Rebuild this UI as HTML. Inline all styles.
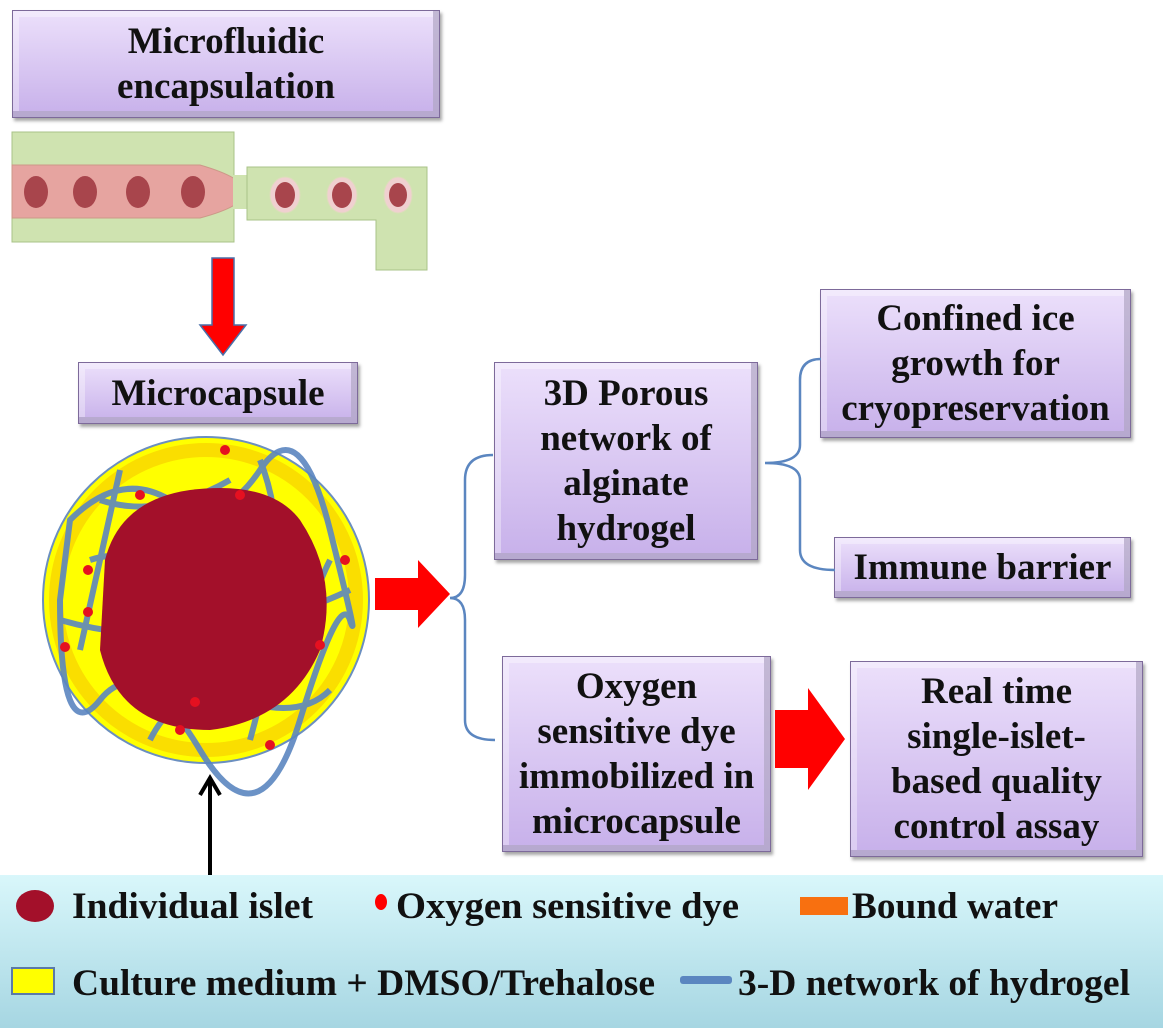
<!DOCTYPE html>
<html><head><style>
body{margin:0;width:1163px;height:1028px;position:relative;background:#fff;overflow:hidden;font-family:"Liberation Serif",serif;font-weight:bold;}
.b{position:absolute;box-sizing:border-box;background:linear-gradient(#ece0fb,#c7b0ea);border:1px solid #7d6a9a;box-shadow:inset 0 0 0 6px rgba(255,255,255,.35),inset -6px -6px 0 rgba(90,70,130,.5),2px 3px 3px rgba(0,0,0,.35);display:flex;align-items:center;justify-content:center;text-align:center;font-size:37px;line-height:45px;color:#111;}
</style></head><body>
<div class="b" style="left:12px;top:10px;width:428px;height:108px;">Microfluidic<br>encapsulation</div>
<div class="b" style="left:78px;top:362px;width:280px;height:62px;">Microcapsule</div>
<div class="b" style="left:494px;top:362px;width:264px;height:198px;">3D Porous<br>network of<br>alginate<br>hydrogel</div>
<div class="b" style="left:820px;top:289px;width:311px;height:149px;">Confined ice<br>growth for<br>cryopreservation</div>
<div class="b" style="left:834px;top:537px;width:297px;height:61px;">Immune barrier</div>
<div class="b" style="left:502px;top:656px;width:269px;height:196px;">Oxygen<br>sensitive dye<br>immobilized in<br>microcapsule</div>
<div class="b" style="left:850px;top:661px;width:293px;height:196px;">Real time<br>single-islet-<br>based quality<br>control assay</div>
<svg width="1163" height="1028" style="position:absolute;left:0;top:0">
<defs><linearGradient id="lg" x1="0" y1="0" x2="0" y2="1"><stop offset="0" stop-color="#d9f7fb"/><stop offset="1" stop-color="#a6d6e2"/></linearGradient></defs>
<rect x="12" y="132" width="222" height="110" fill="#cfe3b0" stroke="#a9c388"/>
<path d="M12 165 L200 165 Q245 178 245 192 Q245 206 200 218 L12 218Z" fill="#e6a4a0" stroke="#c98"/>
<g fill="#a8454c"><ellipse cx="36" cy="192" rx="12" ry="16"/><ellipse cx="85" cy="192" rx="12" ry="16"/><ellipse cx="138" cy="192" rx="12" ry="16"/><ellipse cx="193" cy="192" rx="12" ry="16"/></g>
<rect x="233" y="175" width="14" height="34" fill="#cfe3b0"/>
<path d="M247 167 L427 167 L427 270 L376 270 L376 220 L247 220Z" fill="#cfe3b0" stroke="#a9c388"/>
<g fill="#f0d0d0" stroke="#ddb"><ellipse cx="285" cy="195" rx="15" ry="18"/><ellipse cx="342" cy="195" rx="15" ry="18"/><ellipse cx="398" cy="195" rx="14" ry="18"/></g>
<g fill="#a8454c"><ellipse cx="285" cy="195" rx="10" ry="13"/><ellipse cx="342" cy="195" rx="10" ry="13"/><ellipse cx="398" cy="195" rx="9" ry="12"/></g>
<path d="M212 258 L234 258 L234 325 L246 325 L223 355 L200 325 L212 325Z" fill="#f00" stroke="#4a6fa8" stroke-width="1.5"/>
<circle cx="206" cy="600" r="163" fill="#ffff00" stroke="#6b8fc0" stroke-width="2"/>
<circle cx="206" cy="600" r="150" fill="none" stroke="#f0a000" stroke-width="14" opacity=".35"/>
<g fill="none" stroke="#5b86c0" stroke-width="6" opacity=".9">
<path d="M70 520 Q120 470 170 500 T260 470 T330 530 T350 620 T300 720 T200 750 T100 700 T60 600 Z"/>
<path d="M90 560 Q150 540 130 620 T200 700 T300 650 T330 560"/>
<path d="M120 470 Q100 560 80 650 M260 460 Q300 560 250 740 M60 620 Q200 660 350 590"/>
<path d="M150 740 Q180 680 240 700 T330 690 M100 500 Q160 520 230 480"/>
</g>
<path d="M105 560 Q120 500 190 490 Q270 480 300 520 Q340 580 320 650 Q290 720 210 730 Q120 730 100 650Z" fill="#a3102a"/>
<g fill="#e51020"><circle cx="225" cy="450" r="5"/><circle cx="140" cy="495" r="5"/><circle cx="88" cy="570" r="5"/><circle cx="65" cy="647" r="5"/><circle cx="88" cy="612" r="5"/><circle cx="195" cy="702" r="5"/><circle cx="180" cy="730" r="5"/><circle cx="270" cy="745" r="5"/><circle cx="320" cy="645" r="5"/><circle cx="345" cy="560" r="5"/><circle cx="240" cy="495" r="5"/></g>
<path d="M375 578 L418 578 L418 560 L450 594 L418 628 L418 610 L375 610Z" fill="#f00"/>
<path d="M775 710 L808 710 L808 688 L845 739 L808 790 L808 768 L775 768Z" fill="#f00"/>
<path d="M210 875 L210 782 M200 795 L210 778 L220 795" stroke="#000" stroke-width="4" fill="none"/>
<path d="M493 455 Q465 455 465 480 L465 575 Q465 598 450 598 Q465 598 465 620 L465 720 Q465 740 495 740" fill="none" stroke="#5b86c0" stroke-width="2.5"/>
<path d="M821 359 Q800 359 800 380 L800 445 Q800 463 765 463 Q800 463 800 480 L800 550 Q800 570 835 570" fill="none" stroke="#5b86c0" stroke-width="2.5"/>
<rect x="0" y="875" width="1163" height="153" fill="url(#lg)"/>
<ellipse cx="35" cy="906" rx="19" ry="16" fill="#a3102a"/>
<ellipse cx="381" cy="902" rx="6" ry="8" fill="#f00"/>
<rect x="800" y="897" width="48" height="18" fill="#f87010"/>
<rect x="12" y="968" width="42" height="26" fill="#ffff00" stroke="#5b7aa8" stroke-width="2"/>
<rect x="680" y="976" width="52" height="8" rx="3" fill="#5b86c0"/>
<g font-family="Liberation Serif, serif" font-weight="bold" font-size="37" fill="#111">
<text x="72" y="918" textLength="241" lengthAdjust="spacingAndGlyphs">Individual islet</text>
<text x="396" y="918" textLength="343" lengthAdjust="spacingAndGlyphs">Oxygen sensitive  dye</text>
<text x="852" y="918" textLength="206" lengthAdjust="spacingAndGlyphs">Bound water</text>
<text x="72" y="995" textLength="583" lengthAdjust="spacingAndGlyphs">Culture medium + DMSO/Trehalose</text>
<text x="738" y="995" textLength="392" lengthAdjust="spacingAndGlyphs">3-D network of hydrogel</text>
</g>
</svg>
</body></html>
